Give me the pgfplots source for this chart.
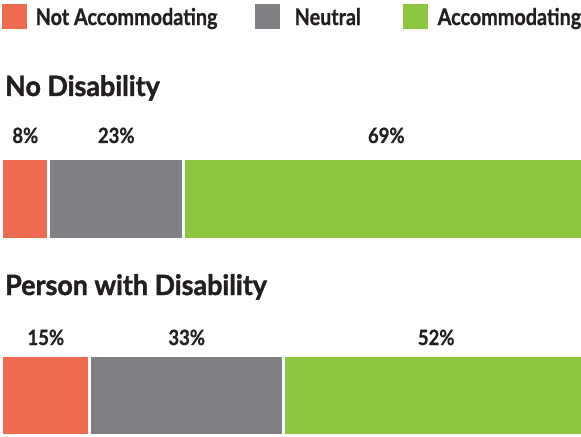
\documentclass[border=0pt]{standalone}
\usepackage{fontspec}
\setmainfont{Lato}[FakeStretch=0.88, BoldFeatures={FakeBold=0.7}]
\newfontfamily\legfont{Lato}[FakeStretch=0.86, BoldFeatures={FakeBold=0.8}]
\newfontfamily\ttlfont{Lato}[FakeStretch=0.96, BoldFeatures={FakeBold=1.5}]
\usepackage{pgfplots}
\pgfplotsset{compat=1.18}
\definecolor{cred}{HTML}{EE6A50}
\definecolor{cgray}{HTML}{808084}
\definecolor{cgreen}{HTML}{8DC63F}
\definecolor{ctext}{HTML}{231F20}
\tikzset{lbl/.style={anchor=base, inner sep=0pt, text=ctext, font=\fontsize{21bp}{24bp}\selectfont\bfseries},
  ttl/.style={anchor=base west, inner sep=0pt, text=ctext, font=\ttlfont\fontsize{28bp}{32bp}\selectfont\bfseries}}
\begin{document}
\begin{tikzpicture}
\begin{axis}[
  at={(0,0)}, anchor=south west,
  scale only axis, width=581bp, height=436bp,
  xmin=-0.307, xmax=98.67, ymin=0, ymax=436,
  enlargelimits=false,
  axis lines=none, xtick=\empty, ytick=\empty,
  xbar stacked, bar width=80.5bp,
  legend columns=3,
  legend style={draw=none, fill=none, inner sep=0pt, outer sep=0pt,
    at={(0.0029,0.9908)}, anchor=north west,
    column sep=0pt, row sep=0pt,
    cells={anchor=base west},
    nodes={inner sep=0pt, outer sep=0pt, text=ctext, font=\legfont\fontsize{23bp}{26bp}\selectfont\bfseries}},
  legend image code/.code={\fill[#1,draw=none] (0bp,-4bp) rectangle (25bp,21bp);},
]
\addplot[fill=cred, draw=white, line width=3bp] coordinates {(8,236.75) (15,40.5)};
\addlegendentry{\makebox[228bp][l]{\hspace{9bp}Not Accommodating}}
\addplot[fill=cgray, draw=white, line width=3bp] coordinates {(23,236.75) (33,40.5)};
\addlegendentry{\makebox[123bp][l]{\hspace{15bp}Neutral}}
\addplot[fill=cgreen, draw=white, line width=3bp] coordinates {(69,236.75) (52,40.5)};
\addlegendentry{\makebox[170bp][l]{\hspace{10bp}Accommodating}}
\node[ttl] at (axis cs:0.545,340) {No Disability};
\node[ttl] at (axis cs:0.545,141) {Person with Disability};
\node[lbl] at (axis cs:4,293) {8\%};
\node[lbl] at (axis cs:19.5,293) {23\%};
\node[lbl] at (axis cs:65.5,293) {69\%};
\node[lbl] at (axis cs:7.5,91) {15\%};
\node[lbl] at (axis cs:31.5,91) {33\%};
\node[lbl] at (axis cs:74,91) {52\%};
\end{axis}
\pgfresetboundingbox
\useasboundingbox (current axis.south west) rectangle (current axis.north east);
\end{tikzpicture}
\end{document}
